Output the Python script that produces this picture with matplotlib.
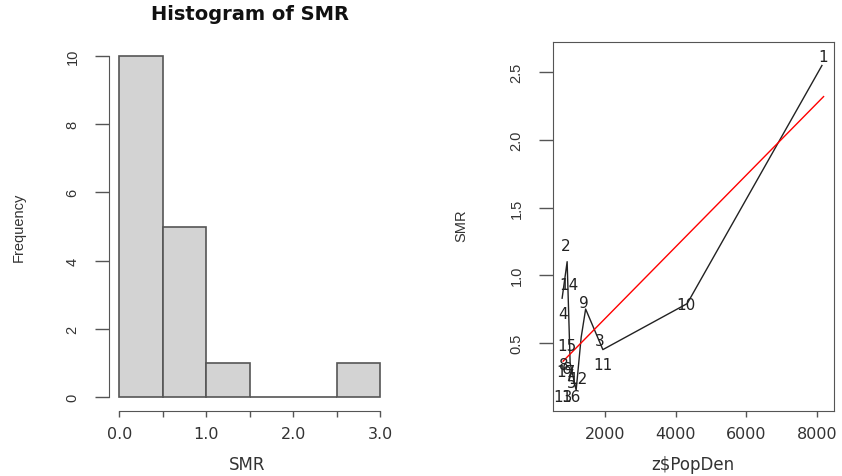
import numpy as np
import matplotlib
matplotlib.use("Agg")
import matplotlib.pyplot as plt

# ── Data: SMR and population density for 17 areas ─────────────────
area_id = list(range(1, 18))
pop_den = [8190, 896, 1859, 810, 1066, 924, 981, 839, 1406,
           4297, 1944, 1236, 810, 981, 924, 1037, 896]
smr = [2.62, 1.22, 0.52, 0.72, 0.21, 0.31, 0.26, 0.34, 0.80,
       0.78, 0.34, 0.24, 0.10, 0.93, 0.48, 0.10, 0.29]

# black trace drawn on the scatter panel
trace_x = [782, 924, 1009, 1179, 1321, 1448, 1936, 4325, 8143]
trace_y = [0.83, 1.10, 0.35, 0.15, 0.54, 0.75, 0.45, 0.79, 2.55]

hist_breaks = np.arange(0, 3.01, 0.5)

AX_COL = "#555555"
TXT_COL = "#333333"
H_FONT = "DejaVu Sans"       # horizontal text
V_FONT = "Liberation Sans"   # rotated text

W, H = 842, 477
fig = plt.figure(figsize=(W / 100, H / 100), dpi=100)

bottom = (H - 411.6) / H
height = 368.2 / H
ax1 = fig.add_axes([108.9 / W, bottom, 281.5 / W, height])
ax2 = fig.add_axes([552.7 / W, bottom, 281.3 / W, height])


def style_ticks(ax):
    ax.tick_params(axis="x", length=4.3, width=1, color=AX_COL, pad=7,
                   labelsize=11.5, labelcolor=TXT_COL)
    ax.tick_params(axis="y", length=10, width=1, color=AX_COL, pad=11,
                   labelsize=10.5, labelcolor=TXT_COL)
    for lab in ax.get_xticklabels():
        lab.set_fontfamily(H_FONT)
    for lab in ax.get_yticklabels():
        lab.set_fontfamily(V_FONT)
        lab.set_rotation(90)
        lab.set_va("center")


# ── Left: histogram ───────────────────────────────────────────────
ax1.hist(smr, bins=hist_breaks, color="#D3D3D3", edgecolor="#555555",
         linewidth=1.2)
ax1.set_xlim(-0.12, 3.12)
ax1.set_ylim(-0.4, 10.4)
ax1.set_xticks(hist_breaks)
ax1.set_xticklabels(["0.0", "", "1.0", "", "2.0", "", "3.0"])
ax1.set_yticks([0, 2, 4, 6, 8, 10])
for s in ("top", "right"):
    ax1.spines[s].set_visible(False)
ax1.spines["left"].set_bounds(0, 10)
ax1.spines["bottom"].set_bounds(0, 3)
for s in ("left", "bottom"):
    ax1.spines[s].set_color(AX_COL)
style_ticks(ax1)

ax1.set_xlabel("SMR", fontfamily=H_FONT, fontsize=12, color=TXT_COL)
ax1.xaxis.set_label_coords(0.49, -0.145)
ax1.xaxis.label.set_va("center")
ax1.set_ylabel("Frequency", fontfamily=V_FONT, fontsize=10.5, color=TXT_COL)
ax1.yaxis.set_label_coords(-0.319, 0.5)
ax1.yaxis.label.set_va("center")

fig.text(249.7 / W, 1 - 14 / H, "Histogram of SMR", ha="center", va="center",
         fontfamily=H_FONT, fontsize=14, fontweight="bold", color="#111111")

# ── Right: SMR against population density ─────────────────────────
xr = max(pop_den) - min(pop_den)
yr = max(smr) - min(smr)
ax2.set_xlim(min(pop_den) - 0.04 * xr, max(pop_den) + 0.04 * xr)
ax2.set_ylim(min(smr) - 0.04 * yr, max(smr) + 0.04 * yr)

ax2.plot(trace_x, trace_y, color="#222222", linewidth=1)

slope, intercept = np.polyfit(pop_den, smr, 1)
fit_x = np.array([min(pop_den), max(pop_den)])
ax2.plot(fit_x, intercept + slope * fit_x, color="red", linewidth=1)

for i, x, y in zip(area_id, pop_den, smr):
    ax2.text(x, y, str(i), ha="center", va="center", fontfamily=H_FONT,
             fontsize=11, color="#222222")

ax2.set_xticks([2000, 4000, 6000, 8000])
ax2.set_yticks([0.5, 1.0, 1.5, 2.0, 2.5])
for s in ax2.spines.values():
    s.set_color(AX_COL)
style_ticks(ax2)

ax2.set_xlabel("z$PopDen", fontfamily=H_FONT, fontsize=12, color=TXT_COL)
ax2.xaxis.set_label_coords((692.4 - 552.7) / 281.3, -0.145)
ax2.xaxis.label.set_va("center")
ax2.set_ylabel("SMR", fontfamily=V_FONT, fontsize=10.5, color=TXT_COL)
ax2.yaxis.set_label_coords((461.7 - 552.7) / 281.3, 0.504)
ax2.yaxis.label.set_va("center")

fig.savefig("out.png", dpi=100)
